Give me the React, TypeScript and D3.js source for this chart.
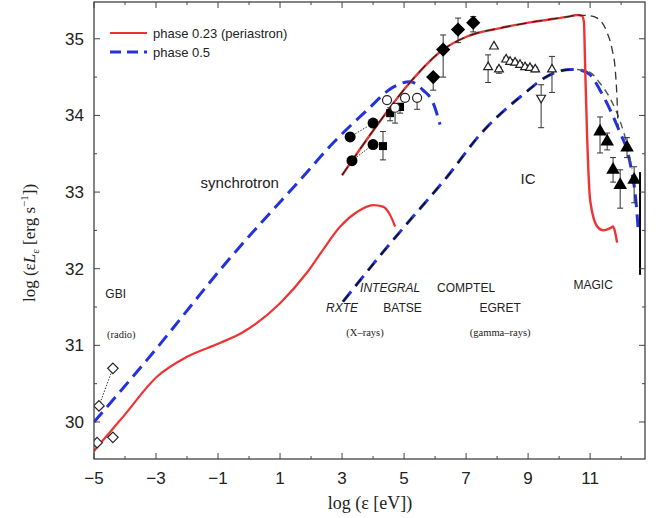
import React, { useEffect, useRef } from 'react';
import * as d3 from 'd3';

// model curves, [log eV, log L]
const redSync: [number, number][] = [
  [-5, 29.62], [-4.9, 29.67], [-4.48, 29.87], [-4.06, 30.07], [-2.97, 30.59], [-2.0, 30.85],
  [-0.94, 31.03], [-0.2, 31.17], [1.0, 31.55], [1.87, 31.95], [2.39, 32.25], [2.94, 32.55],
  [3.48, 32.74], [4.0, 32.83], [4.32, 32.81], [4.55, 32.7], [4.71, 32.55],
];
const redIC: [number, number][] = [
  [3.0, 33.22], [4.0, 33.8], [5.19, 34.43], [6.26, 34.86], [7.03, 35.03], [8.1, 35.14],
  [9.16, 35.22], [10.3, 35.29], [10.6, 35.31], [10.74, 35.3], [10.8, 35.22], [10.84, 34.63],
  [10.9, 33.77], [11.0, 32.9], [11.23, 32.55], [11.42, 32.5], [11.65, 32.53], [11.74, 32.55],
  [11.81, 32.47], [11.87, 32.34],
];
const blackCut: [number, number][] = [
  [10.6, 35.31], [11.0, 35.3], [11.23, 35.27], [11.55, 35.08], [11.71, 34.86], [11.81, 34.6],
  [11.87, 34.2], [11.9, 33.85],
];
const blueSync: [number, number][] = [
  [-5, 30.0], [-3.29, 30.81], [-0.61, 32.14], [1.65, 33.16], [2.71, 33.64], [3.81, 34.07],
  [4.65, 34.37], [5.19, 34.44], [5.61, 34.33], [5.94, 34.16], [6.16, 33.88],
];
const blueIC: [number, number][] = [
  [3.03, 31.57], [4.45, 32.28], [5.29, 32.68], [6.39, 33.2], [7.45, 33.75], [8.74, 34.24],
  [9.81, 34.55], [10.4, 34.6], [10.7, 34.59], [11.0, 34.53], [11.32, 34.33], [11.65, 34.07],
  [11.97, 33.77], [12.19, 33.55], [12.35, 33.25], [12.45, 32.99], [12.52, 32.68], [12.56, 32.45],
];
const greyIC: [number, number][] = [
  [10.58, 34.6], [11.0, 34.56], [11.32, 34.42], [11.7, 34.18], [11.97, 33.92], [12.19, 33.62],
  [12.35, 33.3],
];

// observations
const radioUp: [number, number][] = [[-4.84, 30.21], [-4.39, 30.7]];
const radioLow: [number, number][] = [[-4.9, 29.73], [-4.39, 29.8]];
const xFilledCircle: [number, number][] = [[3.32, 33.41], [3.26, 33.72], [4.0, 33.9], [4.0, 33.62]];
const xFilledSquare: [number, number, number, number][] = [
  [4.32, 33.6, 33.42, 33.79], [4.55, 34.03, 33.93, 34.1], [4.87, 34.11, 34.03, 34.16],
];
const xOpenCircle: [number, number, number, number][] = [
  [4.45, 34.2, 34.2, 34.2], [4.71, 34.1, 33.9, 34.12], [5.03, 34.23, 34.2, 34.25], [5.42, 34.23, 34.08, 34.26],
];
const comptel: [number, number, number, number][] = [
  [5.94, 34.5, 34.33, 34.5], [6.26, 34.86, 34.5, 35.05], [6.74, 35.12, 34.95, 35.27], [7.23, 35.21, 35.09, 35.29],
];
const egret: [number, number, number, number][] = [
  [7.71, 34.63, 34.43, 34.79], [7.9, 34.9, 34.9, 34.9], [8.06, 34.6, 34.55, 34.63],
  [8.29, 34.73, 34.7, 34.76], [8.42, 34.7, 34.67, 34.73], [8.58, 34.69, 34.66, 34.72],
  [8.74, 34.66, 34.63, 34.69], [8.9, 34.63, 34.6, 34.66], [9.06, 34.62, 34.59, 34.65],
  [9.23, 34.6, 34.57, 34.63], [9.77, 34.6, 34.3, 34.77],
];
const egretLimit: [number, number, number, number][] = [[9.42, 34.23, 33.84, 34.4]];
const magic: [number, number, number, number][] = [
  [11.32, 33.79, 33.51, 33.98], [11.55, 33.66, 33.55, 33.77], [11.74, 33.29, 33.13, 33.45],
  [11.97, 33.09, 32.79, 33.29], [12.19, 33.58, 33.45, 33.71], [12.42, 33.16, 32.86, 33.33],
];
const magicBar: [number, number, number][] = [[12.61, 31.92, 33.26]];

const xTicks = [-5, -3, -1, 1, 3, 5, 7, 9, 11];
const yTicks = [30, 31, 32, 33, 34, 35];

const labels: [string, number, number, number, boolean][] = [
  ['synchrotron', -0.3, 33.05, 15, false],
  ['IC', 9.0, 33.1, 15, false],
  ['GBI', -4.3, 31.62, 12, false],
  ['INTEGRAL', 4.55, 31.69, 12, true],
  ['COMPTEL', 7.0, 31.69, 12, false],
  ['RXTE', 3.0, 31.43, 12, true],
  ['BATSE', 4.95, 31.43, 12, false],
  ['EGRET', 8.1, 31.43, 12, false],
  ['MAGIC', 11.1, 31.74, 12, false],
];
const smallLabels: [string, number, number][] = [
  ['(radio)', -4.12, 31.1],
  ['(X–rays)', 3.74, 31.12],
  ['(gamma–rays)', 8.1, 31.12],
];

export default function App() {
  const ref = useRef<SVGSVGElement>(null);

  useEffect(() => {
    const width = 658;
    const height = 518;
    const m = { left: 94, right: 13, top: 2, bottom: 59 };
    const svg = d3.select(ref.current).attr('viewBox', [0, 0, width, height].join(' '));
    svg.selectAll('*').remove();

    const x = d3.scaleLinear([-5, 12.77], [m.left, width - m.right]);
    const y = d3.scaleLinear([29.517, 35.48], [height - m.bottom, m.top]);
    const sans = 'Liberation Sans, Arial, sans-serif';
    const ink = '#222';

    const line = d3.line<[number, number]>()
      .x((d) => x(d[0]))
      .y((d) => y(d[1]))
      .curve(d3.curveMonotoneX);

    const plot = svg.append('g');
    plot.append('defs').append('clipPath').attr('id', 'clip')
      .append('rect').attr('x', m.left).attr('y', m.top)
      .attr('width', width - m.left - m.right).attr('height', height - m.top - m.bottom);
    const g = plot.append('g').attr('clip-path', 'url(#clip)');

    // curves
    g.append('path').attr('d', line(blueSync)).attr('fill', 'none')
      .attr('stroke', '#2233dd').attr('stroke-width', 3).attr('stroke-dasharray', '13,7');
    g.append('path').attr('d', line(blueIC)).attr('fill', 'none')
      .attr('stroke', '#2233dd').attr('stroke-width', 3).attr('stroke-dasharray', '13,7');
    g.append('path').attr('d', line(blueIC.filter((d) => d[0] <= 10.7))).attr('fill', 'none')
      .attr('stroke', '#111').attr('stroke-width', 1.6).attr('stroke-dasharray', '9,11');
    g.append('path').attr('d', line(greyIC)).attr('fill', 'none')
      .attr('stroke', '#555').attr('stroke-width', 1.4).attr('stroke-dasharray', '7,5');
    g.append('path').attr('d', line(redSync)).attr('fill', 'none')
      .attr('stroke', '#ee3333').attr('stroke-width', 2.2);
    g.append('path').attr('d', line(redIC)).attr('fill', 'none')
      .attr('stroke', '#ee3333').attr('stroke-width', 2.4);
    g.append('path').attr('d', line(redIC.filter((d) => d[0] <= 10.6))).attr('fill', 'none')
      .attr('stroke', '#222').attr('stroke-width', 1.2).attr('stroke-dasharray', '10,6');
    g.append('path').attr('d', line(blackCut)).attr('fill', 'none')
      .attr('stroke', '#333').attr('stroke-width', 1.3).attr('stroke-dasharray', '8,5');

    // error bars
    const bars = (data: [number, number, number, number][]) => {
      data.forEach((d) => {
        if (d[3] - d[2] < 0.01) return;
        g.append('line').attr('x1', x(d[0])).attr('x2', x(d[0]))
          .attr('y1', y(d[2])).attr('y2', y(d[3])).attr('stroke', '#333').attr('stroke-width', 1);
        [d[2], d[3]].forEach((v) => g.append('line').attr('x1', x(d[0]) - 3).attr('x2', x(d[0]) + 3)
          .attr('y1', y(v)).attr('y2', y(v)).attr('stroke', '#333').attr('stroke-width', 1));
      });
    };
    [xFilledSquare, xOpenCircle, comptel, egret, egretLimit, magic].forEach(bars);
    magicBar.forEach((d) => g.append('line').attr('x1', x(d[0])).attr('x2', x(d[0]))
      .attr('y1', y(d[1])).attr('y2', y(d[2])).attr('stroke', '#000').attr('stroke-width', 2));

    // radio
    g.append('path').attr('d', d3.line()(radioUp.map((d) => [x(d[0]), y(d[1])])))
      .attr('stroke', '#333').attr('stroke-dasharray', '1.5,1.5').attr('fill', 'none');
    const sym = (type: d3.SymbolType, size: number) => d3.symbol(type, size)();
    [...radioUp, ...radioLow].forEach((d) => g.append('path').attr('d', sym(d3.symbolDiamond2, 70))
      .attr('transform', `translate(${x(d[0])},${y(d[1])})`)
      .attr('fill', 'white').attr('stroke', '#222').attr('stroke-width', 1.2));

    // x-rays
    g.append('path').attr('d', d3.line()([xFilledCircle[1], xFilledCircle[2]].map((d) => [x(d[0]), y(d[1])])))
      .attr('stroke', '#333').attr('stroke-dasharray', '1.5,1.5').attr('fill', 'none');
    g.append('path').attr('d', d3.line()([xFilledCircle[0], xFilledCircle[3], [xFilledSquare[0][0], xFilledSquare[0][1]]].map((d) => [x(d[0]), y(d[1])])))
      .attr('stroke', '#333').attr('stroke-dasharray', '1.5,1.5').attr('fill', 'none');
    xFilledCircle.forEach((d) => g.append('circle').attr('cx', x(d[0])).attr('cy', y(d[1]))
      .attr('r', 5.5).attr('fill', '#000'));
    xFilledSquare.forEach((d) => g.append('rect').attr('x', x(d[0]) - 4).attr('y', y(d[1]) - 4)
      .attr('width', 8).attr('height', 8).attr('fill', '#000'));
    xOpenCircle.forEach((d) => g.append('circle').attr('cx', x(d[0])).attr('cy', y(d[1]))
      .attr('r', 4.5).attr('fill', 'white').attr('stroke', '#222').attr('stroke-width', 1.2));

    // gamma
    comptel.forEach((d) => g.append('path').attr('d', sym(d3.symbolDiamond2, 130))
      .attr('transform', `translate(${x(d[0])},${y(d[1])})`).attr('fill', '#000'));
    egret.forEach((d) => g.append('path').attr('d', sym(d3.symbolTriangle2, 55))
      .attr('transform', `translate(${x(d[0])},${y(d[1])})`)
      .attr('fill', 'white').attr('stroke', '#222').attr('stroke-width', 1.2));
    egretLimit.forEach((d) => g.append('path').attr('d', sym(d3.symbolTriangle2, 55))
      .attr('transform', `translate(${x(d[0])},${y(d[1])}) rotate(180)`)
      .attr('fill', 'white').attr('stroke', '#222').attr('stroke-width', 1.2));
    magic.forEach((d) => g.append('path').attr('d', sym(d3.symbolTriangle, 80))
      .attr('transform', `translate(${x(d[0])},${y(d[1])})`).attr('fill', '#000'));

    // frame and ticks
    svg.append('rect').attr('x', m.left).attr('y', m.top)
      .attr('width', width - m.left - m.right).attr('height', height - m.top - m.bottom)
      .attr('fill', 'none').attr('stroke', '#333').attr('stroke-width', 1.2);
    const tk = svg.append('g').attr('stroke', '#444').attr('stroke-width', 1);
    d3.range(-5, 13).forEach((v) => {
      const len = v % 2 !== 0 ? 6 : 3;
      tk.append('line').attr('x1', x(v)).attr('x2', x(v)).attr('y1', y.range()[0]).attr('y2', y.range()[0] - len);
      tk.append('line').attr('x1', x(v)).attr('x2', x(v)).attr('y1', m.top).attr('y2', m.top + len);
    });
    d3.range(59, 71).map((v) => v / 2).forEach((v) => {
      if (v < 29.52) return;
      const len = Number.isInteger(v) ? 6 : 3;
      tk.append('line').attr('x1', m.left).attr('x2', m.left + len).attr('y1', y(v)).attr('y2', y(v));
      tk.append('line').attr('x1', width - m.right).attr('x2', width - m.right - len).attr('y1', y(v)).attr('y2', y(v));
    });

    svg.append('g').selectAll('text').data(xTicks).join('text')
      .attr('x', (d) => x(d)).attr('y', 484).attr('text-anchor', 'middle')
      .attr('font-family', sans).attr('font-size', 17).attr('fill', ink)
      .text((d) => (d < 0 ? `\u2212${-d}` : `${d}`));
    svg.append('g').selectAll('text').data(yTicks).join('text')
      .attr('x', 84).attr('y', (d) => y(d) + 6).attr('text-anchor', 'end')
      .attr('font-family', sans).attr('font-size', 17).attr('fill', ink)
      .text((d) => d);

    // axis titles
    svg.append('text').attr('x', 370).attr('y', 509).attr('text-anchor', 'middle')
      .attr('font-family', 'Liberation Serif, serif').attr('font-size', 18).attr('fill', ink)
      .text('log (\u03b5 [eV])');
    const yt = svg.append('text').attr('transform', 'translate(35,243) rotate(-90)')
      .attr('text-anchor', 'middle').attr('font-family', 'Liberation Serif, serif')
      .attr('font-size', 17).attr('fill', ink);
    yt.append('tspan').text('log (\u03b5');
    yt.append('tspan').attr('font-style', 'italic').text('L');
    yt.append('tspan').attr('font-size', 11).attr('dy', 4).text('\u03b5');
    yt.append('tspan').attr('dy', -4).text(' [erg s');
    yt.append('tspan').attr('font-size', 11).attr('dy', -7).text('\u22121');
    yt.append('tspan').attr('dy', 7).text('])');

    // annotations
    labels.forEach(([t, lx, ly, fs, it]) => svg.append('text').attr('x', x(lx)).attr('y', y(ly))
      .attr('text-anchor', 'middle').attr('font-family', sans).attr('font-size', fs)
      .attr('font-style', it ? 'italic' : 'normal').attr('fill', ink).text(t));
    smallLabels.forEach(([t, lx, ly]) => svg.append('text').attr('x', x(lx)).attr('y', y(ly))
      .attr('text-anchor', 'middle').attr('font-family', 'Liberation Serif, serif').attr('font-size', 10.5)
      .attr('fill', ink).text(t));

    // legend
    const lg = svg.append('g');
    lg.append('line').attr('x1', 110).attr('x2', 147).attr('y1', 33).attr('y2', 33)
      .attr('stroke', '#ee3333').attr('stroke-width', 2.2);
    lg.append('line').attr('x1', 110).attr('x2', 147).attr('y1', 52).attr('y2', 52)
      .attr('stroke', '#2233dd').attr('stroke-width', 3).attr('stroke-dasharray', '11,6');
    lg.append('text').attr('x', 153).attr('y', 38).attr('font-family', sans).attr('font-size', 13)
      .attr('fill', ink).text('phase 0.23 (periastron)');
    lg.append('text').attr('x', 153).attr('y', 57).attr('font-family', sans).attr('font-size', 13)
      .attr('fill', ink).text('phase 0.5');
  }, []);

  return (
    <svg
      ref={ref}
      width={658}
      height={518}
      style={{ position: 'absolute', left: 0, top: 0, background: 'white' }}
    />
  );
}
